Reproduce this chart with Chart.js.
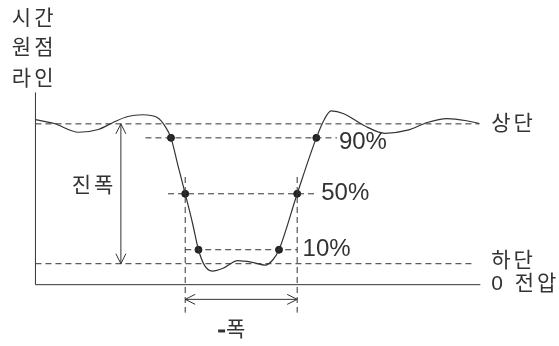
<!DOCTYPE html>
<html>
<head>
<meta charset="utf-8">
<script src="https://cdn.jsdelivr.net/npm/chart.js@4/dist/chart.umd.min.js"></script>
<style>
  body { margin: 0; background: #fff; }
</style>
</head>
<body>
<canvas id="myChart" width="559" height="346"></canvas>
<script>
// ***** DATA *****
// pulse waveform, time (arbitrary units) vs voltage
const waveTime = [0, 1.9, 4.4, 6.4, 7.9, 9.4, 10.9, 12.4, 13.2, 13.8, 14.5, 15.25, 16.0, 16.6, 17.2, 18.0, 19.1, 20.6, 22.1, 23.4, 24.2, 24.8, 26.65, 28.6, 29.4, 30.1, 31.4, 33.4, 35.6, 37.9, 39.9, 41.9, 43.9, 45.2];
const waveVolt = [4.72, 4.61, 4.36, 4.44, 4.64, 4.81, 4.86, 4.78, 4.53, 4.2, 3.42, 2.6, 1.75, 1.0, 0.56, 0.39, 0.47, 0.69, 0.64, 0.56, 0.72, 1.0, 2.6, 4.2, 4.72, 4.97, 4.89, 4.56, 4.33, 4.42, 4.64, 4.75, 4.69, 4.61];

const levelNames = ['상단', '하단', '0 전압'];
const levelVolts = [4.6, 0.6, 0];

const percentLabels = ['90%', '50%', '10%'];
const percentValues = [0.9, 0.5, 0.1];
const fallTimes = [13.8, 15.25, 16.6];
const riseTimes = [28.6, 26.65, 24.8];

// ***** HELPERS *****
const topVolt = levelVolts[0];
const baseVolt = levelVolts[1];
const pctVolts = percentValues.map(p => baseVolt + p * (topVolt - baseVolt));

const ink = '#333333';
const textFont = '21px "Liberation Sans", "Noto Sans CJK KR", sans-serif';

function seg(x1, y1, x2, y2) {
  return [{x: x1, y: y1}, {x: x2, y: y2}];
}

function lineSet(data, dashed) {
  return {
    data: data,
    borderColor: ink,
    borderWidth: 1,
    borderDash: dashed ? [6, 4] : [],
    pointRadius: 0,
    showLine: true,
    tension: 0
  };
}

let waveData = waveTime.map((t, i) => ({x: t, y: waveVolt[i]}));

let markerData = [];
for (let i = 0; i < pctVolts.length; i++) {
  markerData.push({x: fallTimes[i], y: pctVolts[i]});
  markerData.push({x: riseTimes[i], y: pctVolts[i]});
}

// dashed extents for the percent lines
const pctStart = [11.2, 13.5, fallTimes[1]];
const pctEnd = [30.7, 28.4, riseTimes[1]];

let datasets = [
  {
    data: waveData,
    borderColor: ink,
    borderWidth: 1.2,
    pointRadius: 0,
    showLine: true,
    cubicInterpolationMode: 'monotone'
  },
  lineSet(seg(0, 0, 0, 5.5), false),
  lineSet(seg(0, levelVolts[2], 45.3, levelVolts[2]), false),
  lineSet(seg(0, topVolt, 45.2, topVolt), true),
  lineSet(seg(0, baseVolt, 44.8, baseVolt), true),
  lineSet(seg(fallTimes[1], 3.08, fallTimes[1], -0.8), true),
  lineSet(seg(riseTimes[1], 3.08, riseTimes[1], -0.8), true),
  lineSet(seg(8.7, baseVolt, 8.7, topVolt), false),
  lineSet(seg(fallTimes[1], -0.42, riseTimes[1], -0.42), false)
];
for (let i = 0; i < pctVolts.length; i++) {
  datasets.push(lineSet(seg(pctStart[i], pctVolts[i], pctEnd[i], pctVolts[i]), true));
}
datasets.push({
  data: markerData,
  showLine: false,
  pointRadius: 3.5,
  pointBackgroundColor: '#222',
  pointBorderColor: '#222'
});

// ***** PLUGIN: arrowheads and labels *****
const annotate = {
  id: 'annotate',
  afterDatasetsDraw(chart) {
    const c = chart.ctx;
    const xs = chart.scales.x;
    const ys = chart.scales.y;
    const px = v => xs.getPixelForValue(v);
    const py = v => ys.getPixelForValue(v);

    c.save();
    c.strokeStyle = ink;
    c.lineWidth = 1;
    function chevron(x, y, dx, dy) {
      // dx,dy = direction the arrow points
      const len = 10, half = 5;
      c.beginPath();
      c.moveTo(x - dx * len + dy * half, y - dy * len + dx * half);
      c.lineTo(x, y);
      c.lineTo(x - dx * len - dy * half, y - dy * len - dx * half);
      c.stroke();
    }
    chevron(px(8.7), py(topVolt), 0, -1);
    chevron(px(8.7), py(baseVolt), 0, 1);
    chevron(px(fallTimes[1]), py(-0.42), -1, 0);
    chevron(px(riseTimes[1]), py(-0.42), 1, 0);

    c.fillStyle = ink;
    c.font = textFont;
    c.textBaseline = 'middle';
    c.textAlign = 'left';
    c.letterSpacing = '3px';

    // time origin line label
    const originLines = ['시간', '원점', '라인'];
    const originV = [7.58, 6.75, 5.89];
    originLines.forEach((s, i) => c.fillText(s, px(-2.4), py(originV[i])));

    c.fillText('진폭', px(3.7), py(2.83));

    // level labels
    const levelOffset = [0, -3, 0];
    levelNames.forEach((s, i) => c.fillText(s, px(46.4), py(levelVolts[i]) + levelOffset[i]));

    // width label: heavy short dash then the word
    c.letterSpacing = '0px';
    c.fillRect(px(18.6), py(-1.31) - 1, 7, 3);
    c.fillText('폭', px(19.4), py(-1.31));

    // percent labels
    c.font = '24px "Liberation Sans", sans-serif';
    const pctX = [30.9, 29.1, 27.2];
    const pctOff = [5, 0, 0];
    percentLabels.forEach((s, i) => c.fillText(s, px(pctX[i]), py(pctVolts[i]) + pctOff[i]));
    c.restore();
  }
};

// ***** CHART *****
const ctx = document.getElementById('myChart').getContext('2d');
new Chart(ctx, {
  type: 'scatter',
  data: { datasets: datasets },
  options: {
    responsive: false,
    animation: false,
    devicePixelRatio: 1,
    layout: { padding: 0 },
    plugins: { legend: { display: false }, tooltip: { enabled: false } },
    scales: {
      x: { type: 'linear', min: -3.1, max: 52.8, display: false },
      y: { type: 'linear', min: -1.611, max: 8, display: false }
    }
  },
  plugins: [annotate]
});
</script>
</body>
</html>
